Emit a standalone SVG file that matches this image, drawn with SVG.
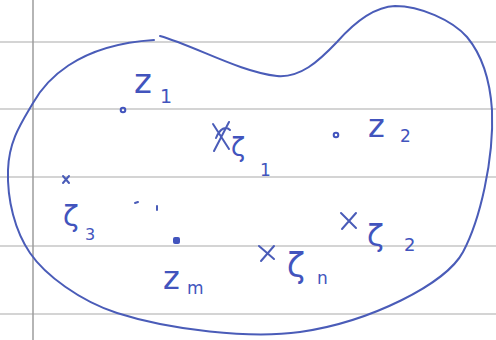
<svg xmlns="http://www.w3.org/2000/svg" width="496" height="340" viewBox="0 0 496 340">
<style>
.rule{stroke:#c6c6c6;stroke-width:1.5;fill:none}
.margin{stroke:#9c9c9c;stroke-width:1.5;fill:none}
.ink{stroke:#4a5cb8;stroke-width:2;fill:none;stroke-linecap:round;stroke-linejoin:round}
.lbl{font-family:"DejaVu Sans",sans-serif;fill:#4254bd}
.open{fill:none;stroke:#4254bd;stroke-width:2}
.fill{fill:#4254bd}
</style>
<rect width="496" height="340" fill="#ffffff"/>
<g id="paper">
<line class="rule" x1="0" y1="42" x2="496" y2="42"/>
<line class="rule" x1="0" y1="109" x2="496" y2="109"/>
<line class="rule" x1="0" y1="177" x2="496" y2="177"/>
<line class="rule" x1="0" y1="246" x2="496" y2="246"/>
<line class="rule" x1="0" y1="314" x2="496" y2="314"/>
<line class="margin" x1="33" y1="0" x2="33" y2="340"/>
</g>
<g id="region">
<path class="ink" d="M160,36 C195,46 240,72 277,76 C300,78 318,62 337,42 C352,25 372,7 395,6 C420,6 452,20 467,37 C482,55 490,80 492,110 C494,160 480,220 463,252 C446,284 370,322 300,332 C250,339 170,330 117,313 C80,301 45,275 30,253 C15,231 7,200 8,170 C9,140 22,122 33,103 C45,82 75,45 154,40"/>
</g>
<g id="z1">
<circle class="open" cx="123" cy="110" r="2.3"/>
<text class="lbl" font-size="34" x="134" y="93">z<tspan font-size="19" x="160" y="103">1</tspan></text>
</g>
<g id="z2">
<circle class="open" cx="336" cy="135" r="2.3"/>
<text class="lbl" font-size="32" x="368" y="137">z<tspan font-size="17" x="400" y="142">2</tspan></text>
</g>
<g id="zm">
<rect class="fill" x="173" y="237" width="7" height="7" rx="2"/>
<text class="lbl" font-size="32" x="163" y="289">z<tspan font-size="17" x="187" y="294">m</tspan></text>
</g>
<g id="zeta1">
<path class="ink" d="M213,124 L229,149 M229,122 L214,151 M216,138 C220,128 226,126 230,130"/>
<text class="lbl" font-size="26" x="231" y="156">ζ<tspan font-size="17" x="260" y="176">1</tspan></text>
</g>
<g id="zeta3">
<path class="ink" d="M63,176 L69,183 M69,176 L63,183"/>
<text class="lbl" font-size="29" x="63" y="226">ζ<tspan font-size="16" x="85" y="240">3</tspan></text>
<path class="ink" d="M135,203 L138,202 M157,206 L157,210"/>
</g>
<g id="zetan">
<path class="ink" d="M259,246 L274,259 M274,246 L261,261"/>
<text class="lbl" font-size="33" x="287" y="277">ζ<tspan font-size="17" x="317" y="284">n</tspan></text>
</g>
<g id="zeta2">
<path class="ink" d="M341,213 L356,228 M356,213 L342,229"/>
<text class="lbl" font-size="31" x="367" y="246">ζ<tspan font-size="18" x="404" y="251">2</tspan></text>
</g>
</svg>
